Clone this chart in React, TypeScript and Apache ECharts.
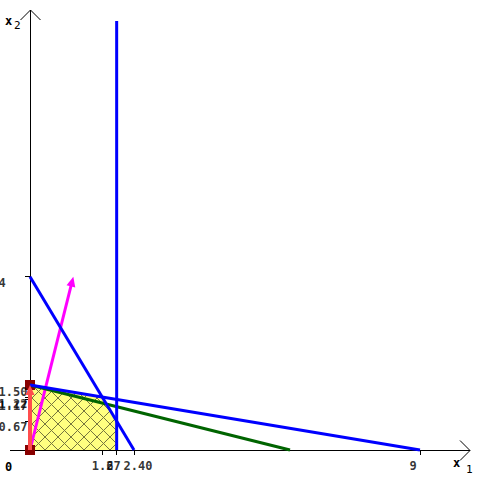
import { useEffect, useRef } from 'react';
import * as echarts from 'echarts';

const X_MAX = 10.154;
const Y_MAX = 10.154;

const constraintVertical = [[2, 0], [2, 9.9]];
const constraintSteep = [[0, 4], [2.4, 0]];
const constraintFlat = [[0, 1.5], [9, 0]];
const objectiveLine = [[0, 1.5], [6, 0]];
const feasibleRegion = [[0, 0], [0, 1.5], [1.67, 1.22], [2, 0.67], [2, 0]];
const gradientArrow = [[0, 0], [1, 4]];
const pathArrow = [[0, 0], [0, 1.5]];
const vertexMarkers = [[0, 0], [0, 1.5]];
const xTickValues = [1.67, 2, 2.4, 9];
const xTickLabels = ['1.67', '2', '2.40', '9'];
const yTickValues = [0.67, 1.17, 1.22, 1.5, 4];
const yTickLabels = ['0.67', '1.17', '1.22', '1.50', '4'];

const FONT = 'DejaVu Sans Mono';
const HATCH_STEP = 13;

function cross(ax: number, ay: number, bx: number, by: number) {
  return ax * by - ay * bx;
}

// clip infinite line p0 + t*d against convex polygon (pixel coords)
function clipLine(p0: number[], d: number[], poly: number[][]): number[][] | null {
  let area = 0;
  for (let i = 0; i < poly.length; i++) {
    const a = poly[i];
    const b = poly[(i + 1) % poly.length];
    area += cross(a[0], a[1], b[0], b[1]);
  }
  const orient = area > 0 ? 1 : -1;
  let t0 = -1e9;
  let t1 = 1e9;
  for (let i = 0; i < poly.length; i++) {
    const a = poly[i];
    const b = poly[(i + 1) % poly.length];
    const ex = b[0] - a[0];
    const ey = b[1] - a[1];
    const c0 = cross(ex, ey, p0[0] - a[0], p0[1] - a[1]) * orient;
    const c1 = cross(ex, ey, d[0], d[1]) * orient;
    if (Math.abs(c1) < 1e-12) {
      if (c0 < 0) return null;
      continue;
    }
    const t = -c0 / c1;
    if (c1 > 0) t0 = Math.max(t0, t);
    else t1 = Math.min(t1, t);
  }
  if (t1 <= t0) return null;
  return [
    [p0[0] + t0 * d[0], p0[1] + t0 * d[1]],
    [p0[0] + t1 * d[0], p0[1] + t1 * d[1]],
  ];
}

function hatchLines(poly: number[][]) {
  const xs = poly.map((p) => p[0]);
  const ys = poly.map((p) => p[1]);
  const minX = Math.min(...xs) - 2000;
  const maxX = Math.max(...xs) + 2000;
  const out: any[] = [];
  const baseY = Math.max(...ys);
  for (let x = minX; x <= maxX; x += HATCH_STEP) {
    for (const d of [[1, -1], [1, 1]]) {
      const seg = clipLine([x, baseY], d, poly);
      if (seg) {
        out.push({
          type: 'line',
          shape: { x1: seg[0][0], y1: seg[0][1], x2: seg[1][0], y2: seg[1][1] },
          style: { stroke: '#76763e', lineWidth: 1 },
        });
      }
    }
  }
  return out;
}

function arrowShape(p0: number[], p1: number[], color: string, width: number, headLen: number, headHalf: number) {
  const dx = p1[0] - p0[0];
  const dy = p1[1] - p0[1];
  const len = Math.sqrt(dx * dx + dy * dy) || 1;
  const ux = dx / len;
  const uy = dy / len;
  const nx = -uy;
  const ny = ux;
  const bx = p1[0] - ux * headLen;
  const by = p1[1] - uy * headLen;
  return {
    type: 'group',
    children: [
      {
        type: 'line',
        shape: { x1: p0[0], y1: p0[1], x2: bx + ux * 2, y2: by + uy * 2 },
        style: { stroke: color, lineWidth: width },
      },
      {
        type: 'polygon',
        shape: { points: [[p1[0], p1[1]], [bx + nx * headHalf, by + ny * headHalf], [bx - nx * headHalf, by - ny * headHalf]] },
        style: { fill: color, stroke: null },
      },
    ],
  };
}

export default function App() {
  const ref = useRef<HTMLDivElement>(null);
  useEffect(() => {
    const chart = echarts.init(ref.current!, null, { renderer: 'svg' });
    const lineSeries = (data: number[][], color: string) => ({
      type: 'line',
      data,
      showSymbol: false,
      symbol: 'none',
      clip: false,
      lineStyle: { color, width: 3 },
      silent: true,
    });
    const labelStyle = {
      fontFamily: FONT,
      fontWeight: 'bold',
      fontSize: 12,
      color: '#000',
    };
    chart.setOption({
      animation: false,
      grid: { left: 30, top: 10, width: 440, height: 440 },
      xAxis: {
        type: 'value',
        min: 0,
        max: X_MAX,
        axisLine: { show: false },
        splitLine: { show: false },
        axisLabel: { show: false },
        axisTick: {
          show: true,
          length: 5,
          customValues: xTickValues,
          lineStyle: { color: '#000', width: 1 },
        },
      },
      yAxis: {
        type: 'value',
        min: 0,
        max: Y_MAX,
        axisLine: { show: false },
        splitLine: { show: false },
        axisLabel: { show: false },
        axisTick: {
          show: true,
          length: 5,
          customValues: yTickValues,
          lineStyle: { color: '#000', width: 1 },
        },
      },
      graphic: [
        { type: 'line', z: 1, shape: { x1: 10, y1: 450.5, x2: 470, y2: 450.5 }, style: { stroke: '#000', lineWidth: 1 } },
        { type: 'polyline', z: 1, shape: { points: [[460, 440.5], [470, 450.5], [460, 460.5]] }, style: { stroke: '#000', lineWidth: 1, fill: null } },
        { type: 'line', z: 1, shape: { x1: 30.5, y1: 451, x2: 30.5, y2: 10 }, style: { stroke: '#000', lineWidth: 1 } },
        { type: 'polyline', z: 1, shape: { points: [[20.5, 20], [30.5, 10], [40.5, 20]] }, style: { stroke: '#000', lineWidth: 1, fill: null } },
        { type: 'text', z: 1, x: 5, y: 461, style: { text: '0', ...labelStyle, fill: '#000' } },
        { type: 'text', z: 1, x: 453, y: 457, style: { text: 'x', fontFamily: FONT, fontWeight: 'bold', fontSize: 12, fill: '#000' } },
        { type: 'text', z: 1, x: 466, y: 464, style: { text: '1', fontFamily: FONT, fontSize: 11, fill: '#000' } },
        { type: 'text', z: 1, x: 5, y: 15, style: { text: 'x', fontFamily: FONT, fontWeight: 'bold', fontSize: 12, fill: '#000' } },
        { type: 'text', z: 1, x: 14, y: 20, style: { text: '2', fontFamily: FONT, fontSize: 11, fill: '#000' } },
      ],
      series: [
        {
          type: 'custom',
          data: [[0, 0]],
          silent: true,
          clip: false,
          renderItem: (_p: any, api: any) => {
            const pts = feasibleRegion.map((pt) => api.coord(pt));
            return {
              type: 'group',
              children: [
                { type: 'polygon', shape: { points: pts }, style: { fill: '#ffff80', stroke: null } },
                ...hatchLines(pts),
              ],
            };
          },
        },
        lineSeries(objectiveLine, '#006400'),
        lineSeries(constraintFlat, '#0000ff'),
        lineSeries(constraintSteep, '#0000ff'),
        lineSeries(constraintVertical, '#0000ff'),
        {
          type: 'custom',
          data: [[0, 0]],
          silent: true,
          clip: false,
          renderItem: (_p: any, api: any) =>
            arrowShape(api.coord(gradientArrow[0]), api.coord(gradientArrow[1]), '#ff00ff', 3, 10, 4.5),
        },
        {
          type: 'scatter',
          symbol: 'rect',
          symbolSize: 10,
          clip: false,
          itemStyle: { color: '#880000', opacity: 1 },
          data: vertexMarkers,
          silent: true,
        },
        {
          type: 'custom',
          data: [[0, 0]],
          silent: true,
          clip: false,
          z: 5,
          renderItem: (_p: any, api: any) =>
            arrowShape(api.coord(pathArrow[0]), api.coord(pathArrow[1]), '#ff4d4d', 4, 10, 4.5),
        },
        {
          type: 'scatter',
          symbolSize: 1,
          clip: false,
          itemStyle: { color: 'rgba(0,0,0,0)' },
          silent: true,
          data: xTickValues.map((v, i) => ({
            value: [v, 0],
            label: {
              show: true,
              formatter: xTickLabels[i],
              position: [-10, 10],
              align: 'left',
              verticalAlign: 'top',
              ...labelStyle,
            },
          })),
        },
        {
          type: 'scatter',
          symbolSize: 1,
          clip: false,
          itemStyle: { color: 'rgba(0,0,0,0)' },
          silent: true,
          data: yTickValues.map((v, i) => ({
            value: [0, v],
            label: {
              show: true,
              formatter: yTickLabels[i],
              position: [-31, 1],
              align: 'left',
              verticalAlign: 'top',
              ...labelStyle,
            },
          })),
        },
      ],
    });
    return () => chart.dispose();
  }, []);
  return <div ref={ref} style={{ width: 480, height: 480, position: 'absolute', left: 0, top: 0 }} />;
}
